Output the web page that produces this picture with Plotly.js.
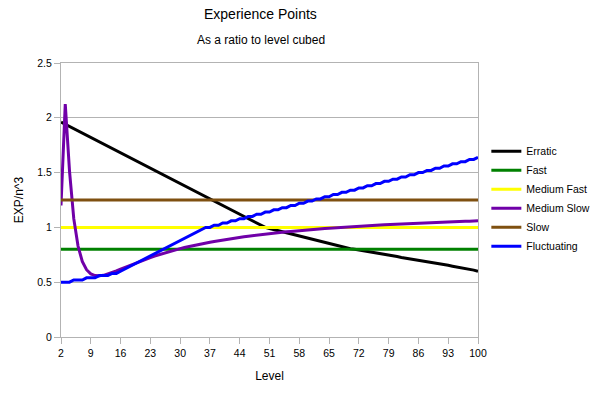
<!DOCTYPE html>
<html>
<head>
<meta charset="utf-8">
<script src="https://cdn.plot.ly/plotly-3.0.1.min.js"></script>
<style>html,body{margin:0;padding:0;background:#fff;}#chart{width:598px;height:398px;}</style>
</head>
<body>
<div id="chart"></div>
<script>
// Levels 2..100
const levels = [2,3,4,5,6,7,8,9,10,11,12,13,14,15,16,17,18,19,20,21,22,23,24,25,26,27,28,29,30,31,32,33,34,35,36,37,38,39,40,41,42,43,44,45,46,47,48,49,50,51,52,53,54,55,56,57,58,59,60,61,62,63,64,65,66,67,68,69,70,71,72,73,74,75,76,77,78,79,80,81,82,83,84,85,86,87,88,89,90,91,92,93,94,95,96,97,98,99,100];
const xTickLabels = [2,9,16,23,30,37,44,51,58,65,72,79,86,93,100];

const erratic = [1.96,1.94,1.92,1.90,1.88,1.86,1.84,1.82,1.80,1.78,1.76,1.74,1.72,1.70,1.68,1.66,1.64,1.62,1.60,1.58,1.56,1.54,1.52,1.50,1.48,1.46,1.44,1.42,1.40,1.38,1.36,1.34,1.32,1.30,1.28,1.26,1.24,1.22,1.20,1.18,1.16,1.14,1.12,1.10,1.08,1.06,1.04,1.02,
  1.00,0.99,0.98,0.97,0.96,0.95,0.94,0.93,0.92,0.91,0.90,0.89,0.88,0.87,0.86,0.85,0.84,0.83,0.82,
  0.814,0.806,0.800,0.794,0.786,0.780,0.774,0.766,0.760,0.754,0.746,0.740,0.734,0.726,0.720,0.714,0.706,0.700,0.694,0.686,0.680,0.674,0.666,0.660,0.654,0.646,0.640,0.634,0.626,
  0.62,0.61,0.60];
const fast = [0.8,0.8,0.8,0.8,0.8,0.8,0.8,0.8,0.8,0.8,0.8,0.8,0.8,0.8,0.8,0.8,0.8,0.8,0.8,0.8,0.8,0.8,0.8,0.8,0.8,0.8,0.8,0.8,0.8,0.8,0.8,0.8,0.8,0.8,0.8,0.8,0.8,0.8,0.8,0.8,0.8,0.8,0.8,0.8,0.8,0.8,0.8,0.8,0.8,0.8,0.8,0.8,0.8,0.8,0.8,0.8,0.8,0.8,0.8,0.8,0.8,0.8,0.8,0.8,0.8,0.8,0.8,0.8,0.8,0.8,0.8,0.8,0.8,0.8,0.8,0.8,0.8,0.8,0.8,0.8,0.8,0.8,0.8,0.8,0.8,0.8,0.8,0.8,0.8,0.8,0.8,0.8,0.8,0.8,0.8,0.8,0.8,0.8,0.8];
const mediumFast = [1,1,1,1,1,1,1,1,1,1,1,1,1,1,1,1,1,1,1,1,1,1,1,1,1,1,1,1,1,1,1,1,1,1,1,1,1,1,1,1,1,1,1,1,1,1,1,1,1,1,1,1,1,1,1,1,1,1,1,1,1,1,1,1,1,1,1,1,1,1,1,1,1,1,1,1,1,1,1,1,1,1,1,1,1,1,1,1,1,1,1,1,1,1,1,1,1,1,1];
const mediumSlow = [1.200,2.126,1.513,1.080,0.830,0.690,0.614,0.576,0.560,0.558,0.563,0.574,0.588,0.603,0.619,0.635,0.651,0.667,0.683,0.697,0.712,0.725,0.739,0.751,0.763,0.775,0.786,0.796,0.806,0.816,0.825,0.833,0.842,0.850,0.858,0.865,0.872,0.879,0.885,0.892,0.898,0.904,0.909,0.915,0.920,0.925,0.930,0.934,0.939,0.943,0.948,0.952,0.956,0.960,0.963,0.967,0.970,0.974,0.977,0.980,0.984,0.987,0.990,0.992,0.995,0.998,1.001,1.003,1.006,1.008,1.011,1.013,1.015,1.018,1.020,1.022,1.024,1.026,1.028,1.030,1.032,1.034,1.035,1.037,1.039,1.041,1.042,1.044,1.045,1.047,1.049,1.050,1.052,1.053,1.055,1.056,1.057,1.059,1.060];
const slow = [1.25,1.25,1.25,1.25,1.25,1.25,1.25,1.25,1.25,1.25,1.25,1.25,1.25,1.25,1.25,1.25,1.25,1.25,1.25,1.25,1.25,1.25,1.25,1.25,1.25,1.25,1.25,1.25,1.25,1.25,1.25,1.25,1.25,1.25,1.25,1.25,1.25,1.25,1.25,1.25,1.25,1.25,1.25,1.25,1.25,1.25,1.25,1.25,1.25,1.25,1.25,1.25,1.25,1.25,1.25,1.25,1.25,1.25,1.25,1.25,1.25,1.25,1.25,1.25,1.25,1.25,1.25,1.25,1.25,1.25,1.25,1.25,1.25,1.25,1.25,1.25,1.25,1.25,1.25,1.25,1.25,1.25,1.25,1.25,1.25,1.25,1.25,1.25,1.25,1.25,1.25,1.25,1.25,1.25,1.25,1.25,1.25,1.25,1.25];
const fluctuating = [0.50,0.50,0.50,0.52,0.52,0.52,0.54,0.54,0.54,0.56,0.56,0.56,0.58,
  0.58,0.60,0.62,0.64,0.66,0.68,0.70,0.72,0.74,0.76,0.78,0.80,0.82,0.84,0.86,0.88,0.90,0.92,0.94,0.96,0.98,
  1.00,1.00,1.02,1.02,1.04,1.04,1.06,1.06,1.08,1.08,1.10,1.10,1.12,1.12,1.14,1.14,1.16,1.16,1.18,1.18,1.20,1.20,1.22,1.22,1.24,1.24,1.26,1.26,1.28,1.28,1.30,1.30,1.32,1.32,1.34,1.34,1.36,1.36,1.38,1.38,1.40,1.40,1.42,1.42,1.44,1.44,1.46,1.46,1.48,1.48,1.50,1.50,1.52,1.52,1.54,1.54,1.56,1.56,1.58,1.58,1.60,1.60,1.62,1.62,1.64];

const seriesNames = ['Erratic','Fast','Medium Fast','Medium Slow','Slow','Fluctuating'];
const seriesData = [erratic, fast, mediumFast, mediumSlow, slow, fluctuating];
const seriesColors = ['#000000','#008000','#ffff00','#7000a8','#7f5010','#0000ff'];

const traces = seriesNames.map((n,i)=>({
  x: levels, y: seriesData[i], name: n, type:'scatter', mode:'lines',
  line:{color:seriesColors[i], width:3}
}));

const layout = {
  width:598, height:398,
  margin:{l:61, r:120, t:63, b:61, autoexpand:false},
  paper_bgcolor:'#fff', plot_bgcolor:'#fff',
  font:{family:'Liberation Sans, Arial, sans-serif', size:11, color:'#000'},
  showlegend:true,
  legend:{x:1.02, xanchor:'left', y:0.505, yanchor:'middle', font:{size:10.5}, bgcolor:'rgba(0,0,0,0)', tracegroupgap:0, itemwidth:30},
  xaxis:{
    range:[2,100], tickmode:'array', tickvals:xTickLabels, ticktext:xTickLabels.map(String),
    showgrid:false, zeroline:false, showline:true, linecolor:'#b3b3b3', linewidth:1, mirror:true,
    ticks:'outside', ticklen:6, tickcolor:'#b3b3b3', tickfont:{size:10.5},
    title:{text:'Level', font:{size:12}, standoff:14}
  },
  yaxis:{
    range:[0,2.5], tickmode:'array', tickvals:[0,0.5,1,1.5,2,2.5], ticktext:['0','0.5','1','1.5','2','2.5'],
    showgrid:true, gridcolor:'#b3b3b3', gridwidth:1, zeroline:false, showline:true, linecolor:'#b3b3b3', linewidth:1, mirror:true,
    ticks:'outside', ticklen:6, tickcolor:'#b3b3b3', tickfont:{size:10.5},
    title:{text:'EXP/n^3', font:{size:12}, standoff:11}
  },
  annotations:[
    {text:'Experience Points', xref:'paper', yref:'paper', x:(260-61)/417, y:1+(63-14)/274, showarrow:false, font:{size:14}, xanchor:'center', yanchor:'middle'},
    {text:'As a ratio to level cubed', xref:'paper', yref:'paper', x:(261-61)/417, y:1+(63-40)/274, showarrow:false, font:{size:12}, xanchor:'center', yanchor:'middle'}
  ]
};
Plotly.newPlot('chart', traces, layout, {displayModeBar:false, staticPlot:true});
</script>
</body>
</html>
